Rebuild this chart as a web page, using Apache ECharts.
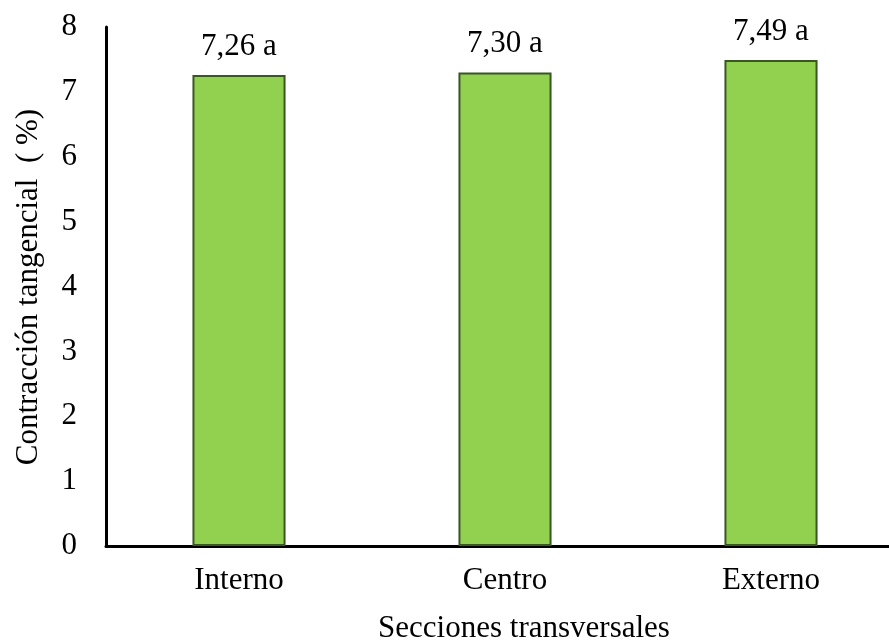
<!DOCTYPE html>
<html><head><meta charset="utf-8">
<script src="https://cdn.jsdelivr.net/npm/echarts@6/dist/echarts.min.js"></script>
<style>html,body{margin:0;padding:0;background:#fff;overflow:hidden;width:889px;height:642px}#c{width:904px;height:642px}</style>
</head><body><div id="c"></div>
<script>
const categories = ['Interno', 'Centro', 'Externo'];
const values = [7.26, 7.30, 7.49];
const letters = ['a', 'a', 'a'];
const yTicks = [0, 1, 2, 3, 4, 5, 6, 7, 8];
const xTitle = 'Secciones transversales';
const yTitle = 'Contracción tangencial  ( %)';

const font = '"Liberation Serif", "Times New Roman", serif';
const chart = echarts.init(document.getElementById('c'));
chart.setOption({
  animation: false,
  grid: { left: 106, right: 0, top: 27, bottom: 96, containLabel: false },
  xAxis: {
    type: 'category', data: categories,
    axisLine: { lineStyle: { color: '#000', width: 3 } },
    axisTick: { show: false },
    axisLabel: { color: '#000', fontFamily: font, fontSize: 31, margin: 19 }
  },
  yAxis: {
    type: 'value', min: yTicks[0], max: yTicks[yTicks.length - 1], interval: 1,
    axisLine: { show: true, lineStyle: { color: '#000', width: 3 } },
    axisTick: { show: false },
    splitLine: { show: false },
    axisLabel: { color: '#000', fontFamily: font, fontSize: 31, margin: 29 }
  },
  graphic: [
    { type: 'text', x: 524, y: 629, style: { text: xTitle, font: '31px ' + font, fill: '#000', align: 'center', verticalAlign: 'middle' } },
    { type: 'text', rotation: Math.PI / 2, x: 29, y: 287, style: { text: yTitle, font: '31px ' + font, fill: '#000', align: 'center', verticalAlign: 'middle' } }
  ],
  series: [{
    type: 'bar',
    data: values,
    barWidth: '35%',
    itemStyle: { color: '#92D050', borderColor: '#385723', borderWidth: 2 },
    label: {
      show: true, position: 'top', distance: 13,
      color: '#000', fontFamily: font, fontSize: 31,
      formatter: p => p.value.toFixed(2).replace('.', ',') + ' ' + letters[p.dataIndex]
    }
  }]
});
</script></body></html>
